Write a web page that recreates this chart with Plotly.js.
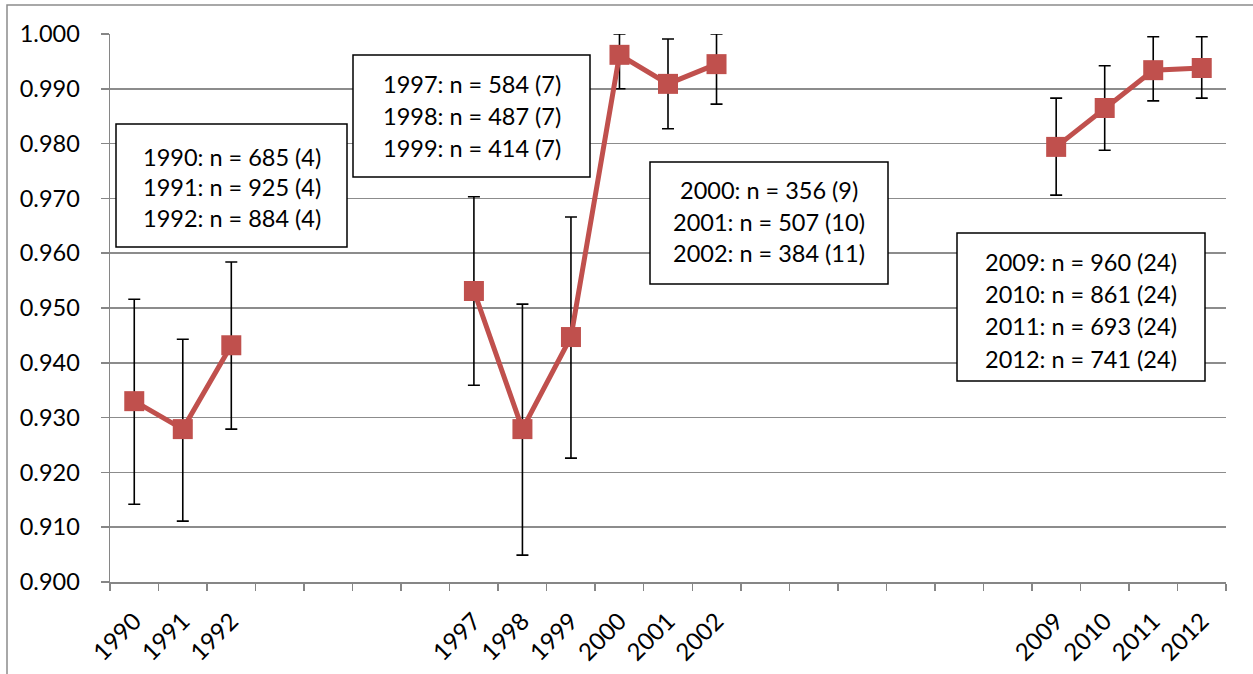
<!DOCTYPE html>
<html>
<head>
<meta charset="utf-8">
<script src="https://cdn.plot.ly/plotly-3.0.1.min.js"></script>
<style>html,body{margin:0;padding:0;background:#fff;}#chart{width:1253px;height:674px;}</style>
</head>
<body>
<div id="chart"></div>
<script>
const years = ['1990','1991','1992','1993','1994','1995','1996','1997','1998','1999','2000','2001','2002','2003','2004','2005','2006','2007','2008','2009','2010','2011','2012'];
const values = [0.9330,0.9279,0.9432,null,null,null,null,0.9531,0.9279,0.9447,0.9962,0.9909,0.9945,null,null,null,null,null,null,0.9794,0.9865,0.9934,0.9938];
const upper  = [0.9516,0.9443,0.9584,null,null,null,null,0.9703,0.9507,0.9666,1.0000,0.9991,1.0000,null,null,null,null,null,null,0.9883,0.9942,0.9995,0.9995];
const lower  = [0.9142,0.9111,0.9279,null,null,null,null,0.9359,0.9049,0.9226,0.9900,0.9827,0.9872,null,null,null,null,null,null,0.9706,0.9788,0.9878,0.9883];
const tickLabels = ['1990','1991','1992','','','','','1997','1998','1999','2000','2001','2002','','','','','','','2009','2010','2011','2012'];
const box1 = ['1990: n = 685 (4)','1991: n = 925 (4)','1992: n = 884 (4)'];
const box2 = ['1997: n = 584 (7)','1998: n = 487 (7)','1999: n = 414 (7)'];
const box3 = ['2000: n = 356 (9)','2001: n = 507 (10)','2002: n = 384 (11)'];
const box4 = ['2009: n = 960 (24)','2010: n = 861 (24)','2011: n = 693 (24)','2012: n = 741 (24)'];

const errPlus = values.map((v,i)=> v===null ? null : upper[i]-v);
const errMinus = values.map((v,i)=> v===null ? null : v-lower[i]);

// plot area in pixels
const L = 110, R = 1226, T = 34, B = 582;
const W = 1253, H = 674;
const px = x => (x - L) / (R - L);
const py = y => (B - y) / (B - T);

const FONT = 'Lato, "Open Sans", sans-serif';

const boxes = [
  {lines: box1, x0: 116, y0: 124, x1: 347, y1: 247, ys: [157, 187, 218]},
  {lines: box2, x0: 353, y0: 55,  x1: 590, y1: 177, ys: [84, 116, 148]},
  {lines: box3, x0: 650, y0: 162, x1: 888, y1: 284, ys: [190, 222, 253]},
  {lines: box4, x0: 957, y0: 233, x1: 1205, y1: 381, ys: [262, 294, 326, 359]}
];

const shapes = [
  {type:'rect', xref:'paper', yref:'paper', x0: px(7), x1: px(1300), y0: py(5), y1: py(720),
   line:{color:'#8c8c8c', width:1.5}, fillcolor:'rgba(0,0,0,0)', layer:'below'}
];
const annotations = [];
boxes.forEach(b => {
  shapes.push({type:'rect', xref:'paper', yref:'paper', x0: px(b.x0), x1: px(b.x1), y0: py(b.y0), y1: py(b.y1),
    line:{color:'#000', width:1.5}, fillcolor:'#fff', layer:'above'});
  b.lines.forEach((t, i) => {
    annotations.push({xref:'paper', yref:'paper', x: px((b.x0+b.x1)/2), y: py(b.ys[i]),
      xanchor:'center', yanchor:'middle', text: t, showarrow:false,
      font:{family: FONT, size: 23.5, color:'#000'}});
  });
});

const trace = {
  type:'scatter', mode:'lines+markers', x: years, y: values, connectgaps:false,
  line:{color:'#C0504D', width:5},
  marker:{symbol:'square', size:20, color:'#C0504D'},
  error_y:{type:'data', symmetric:false, array: errPlus, arrayminus: errMinus, color:'#000', thickness:1.6, width:6},
  hoverinfo:'none'
};

const layout = {
  width: W, height: H,
  margin:{l: L, r: W - R, t: T, b: H - B, pad: 0},
  paper_bgcolor:'#fff', plot_bgcolor:'#fff',
  showlegend:false,
  font:{family: FONT, size: 22, color:'#000'},
  xaxis:{type:'category', range:[-0.5, 22.5], tickmode:'array', tickvals: years, ticktext: tickLabels,
    tickson:'boundaries', ticks:'outside', ticklen:7, tickcolor:'#868686', tickwidth:1.5,
    showgrid:false, showline:true, linecolor:'#868686', linewidth:1.5, tickangle:-45, ticklabelstandoff:14,
    tickfont:{family: FONT, size: 24, color:'#000'}, zeroline:false, fixedrange:true},
  yaxis:{range:[0.9, 1.0], dtick:0.01, tick0:0.9, tickformat:'.3f', ticks:'outside', ticklen:8,
    tickcolor:'#868686', tickwidth:1.5, showgrid:true, gridcolor:'#8c8c8c', gridwidth:1.5,
    showline:true, linecolor:'#868686', linewidth:1.5, zeroline:false, ticklabelstandoff:16,
    tickfont:{family: FONT, size: 23.5, color:'#000'}, fixedrange:true},
  shapes: shapes,
  annotations: annotations
};

Plotly.newPlot('chart', [trace], layout, {displayModeBar:false, staticPlot:true});
</script>
</body>
</html>
